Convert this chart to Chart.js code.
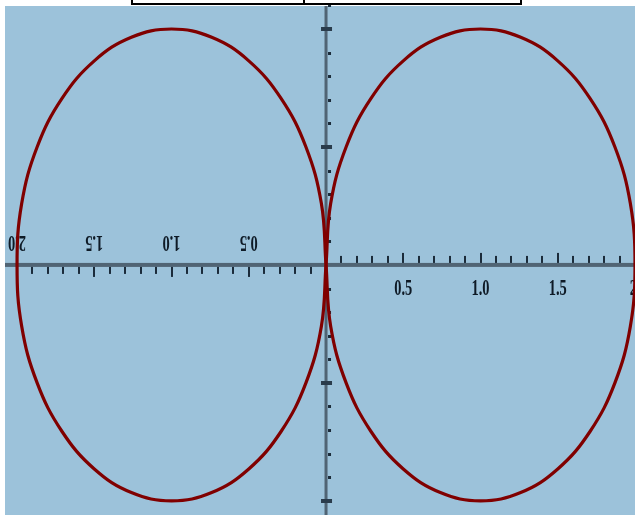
<!DOCTYPE html>
<html lang="en">
<head>
    <meta charset="UTF-8">
    <title>Two ellipses</title>
    <script src="https://cdn.jsdelivr.net/npm/chart.js"></script>
    <style>
        html, body { margin: 0; padding: 0; background: #ffffff; }
        #wrap { width: 635px; height: 515px; position: relative; }
    </style>
</head>
<body>
    <div id="wrap"><canvas id="ellipseChart"></canvas></div>
    <script>
        // points (right loop, starting where the loops touch)
        var rightX = [0.00, 0.03, 0.13, 0.29, 0.50, 0.74, 1.00, 1.26, 1.50, 1.71, 1.87, 1.97, 2.00,
                      1.97, 1.87, 1.71, 1.50, 1.26, 1.00, 0.74, 0.50, 0.29, 0.13, 0.03, 0.00];
        var rightY = [0.00, -0.52, -1.00, -1.41, -1.73, -1.93, -2.00, -1.93, -1.73, -1.41, -1.00, -0.52, 0.00,
                      0.52, 1.00, 1.41, 1.73, 1.93, 2.00, 1.93, 1.73, 1.41, 1.00, 0.52, 0.00];
        // left loop
        var leftX = [0.00, -0.03, -0.13, -0.29, -0.50, -0.74, -1.00, -1.26, -1.50, -1.71, -1.87, -1.97, -2.00,
                     -1.97, -1.87, -1.71, -1.50, -1.26, -1.00, -0.74, -0.50, -0.29, -0.13, -0.03, 0.00];
        var leftY = [0.00, -0.52, -1.00, -1.41, -1.73, -1.93, -2.00, -1.93, -1.73, -1.41, -1.00, -0.52, 0.00,
                     0.52, 1.00, 1.41, 1.73, 1.93, 2.00, 1.93, 1.73, 1.41, 1.00, 0.52, 0.00];

        // tick labels on the horizontal axis
        var rightTickValues = [0.5, 1.0, 1.5, 2.0];
        var rightTickLabels = ['0.5', '1.0', '1.5', '2'];
        var leftTickValues = [-2.0, -1.5, -1.0, -0.5];
        var leftTickLabels = ['2.0', '1.5', '1.0', '0.5'];

        function toPoints(xs, ys) {
            return xs.map(function (x, i) { return { x: x, y: ys[i] }; });
        }

        var axesPlugin = {
            id: 'axesPlugin',
            beforeDatasetsDraw: function (chart) {
                var ctx = chart.ctx;
                var area = chart.chartArea;
                var sx = chart.scales.x, sy = chart.scales.y;
                var x0 = sx.getPixelForValue(0), y0 = sy.getPixelForValue(0);
                ctx.save();
                ctx.fillStyle = '#9cc2da';
                ctx.fillRect(area.left, area.top, area.right - area.left, area.bottom - area.top);

                // horizontal axis
                ctx.fillStyle = '#506474';
                ctx.fillRect(area.left, y0 - 2, area.right - area.left, 4);
                // vertical axis
                ctx.fillRect(x0 - 1.5, area.top, 3, area.bottom - area.top);

                // x ticks: right side above axis, left side below
                ctx.fillStyle = '#1b2b3a';
                for (var i = -20; i <= 20; i++) {
                    if (i === 0) continue;
                    var px = Math.round(sx.getPixelForValue(i / 10));
                    var major = (i % 5 === 0);
                    var len = major ? 10 : 7;
                    if (i > 0) ctx.fillRect(px - 1, y0 - 2 - len, 2, len);
                    else ctx.fillRect(px - 1, y0 + 2, 2, len);
                }
                // y ticks
                for (var j = -10; j <= 11; j++) {
                    if (j === 0) continue;
                    var py = Math.round(sy.getPixelForValue(j / 5));
                    if (j % 5 === 0) {
                        ctx.fillStyle = '#2a3c4c';
                        ctx.fillRect(x0 - 5, py - 2, 11, 4);
                    } else {
                        ctx.fillStyle = '#1b2b3a';
                        ctx.fillRect(x0 + 2, py - 1, 3, 3);
                    }
                }

                // labels
                ctx.fillStyle = '#0e1a26';
                ctx.font = 'bold 17px "Liberation Serif"';
                ctx.textAlign = 'center';
                ctx.textBaseline = 'middle';
                rightTickValues.forEach(function (v, k) {
                    ctx.save();
                    ctx.translate(sx.getPixelForValue(v), y0 + 24);
                    ctx.scale(0.85, 1.35);
                    ctx.fillText(rightTickLabels[k], v === 2 ? -2 : 0, 0);
                    ctx.restore();
                });
                leftTickValues.forEach(function (v, k) {
                    ctx.save();
                    ctx.translate(sx.getPixelForValue(v), y0 - 23);
                    ctx.rotate(Math.PI);
                    ctx.scale(0.85, 1.35);
                    ctx.fillText(leftTickLabels[k], 0, 0);
                    ctx.restore();
                });
                ctx.restore();
            },
            afterDraw: function (chart) {
                // the cut-off table at the top
                var ctx = chart.ctx;
                ctx.save();
                ctx.fillStyle = '#ffffff';
                ctx.fillRect(131, -5, 391, 10);
                ctx.strokeStyle = '#000000';
                ctx.lineWidth = 2;
                ctx.strokeRect(132, -5, 389, 9);
                ctx.beginPath();
                ctx.moveTo(304, -5);
                ctx.lineTo(304, 4);
                ctx.stroke();
                ctx.restore();
            }
        };

        var ctx = document.getElementById('ellipseChart').getContext('2d');
        var ellipseChart = new Chart(ctx, {
            type: 'scatter',
            data: {
                datasets: [{
                    label: 'right',
                    data: toPoints(rightX, rightY),
                    showLine: true,
                    borderColor: '#800000',
                    borderWidth: 3.2,
                    pointRadius: 0,
                    tension: 0.4,
                    clip: false
                }, {
                    label: 'left',
                    data: toPoints(leftX, leftY),
                    showLine: true,
                    borderColor: '#800000',
                    borderWidth: 3.2,
                    pointRadius: 0,
                    tension: 0.4,
                    clip: false
                }]
            },
            options: {
                responsive: true,
                maintainAspectRatio: false,
                animation: false,
                layout: { padding: { left: 5, top: 6, right: 0, bottom: 0 } },
                plugins: { legend: { display: false }, tooltip: { enabled: false } },
                scales: {
                    x: { type: 'linear', display: false, min: -2.078, max: 2.0 },
                    y: { type: 'linear', display: false, min: -2.12, max: 2.195 }
                }
            },
            plugins: [axesPlugin]
        });
    </script>
</body>
</html>
